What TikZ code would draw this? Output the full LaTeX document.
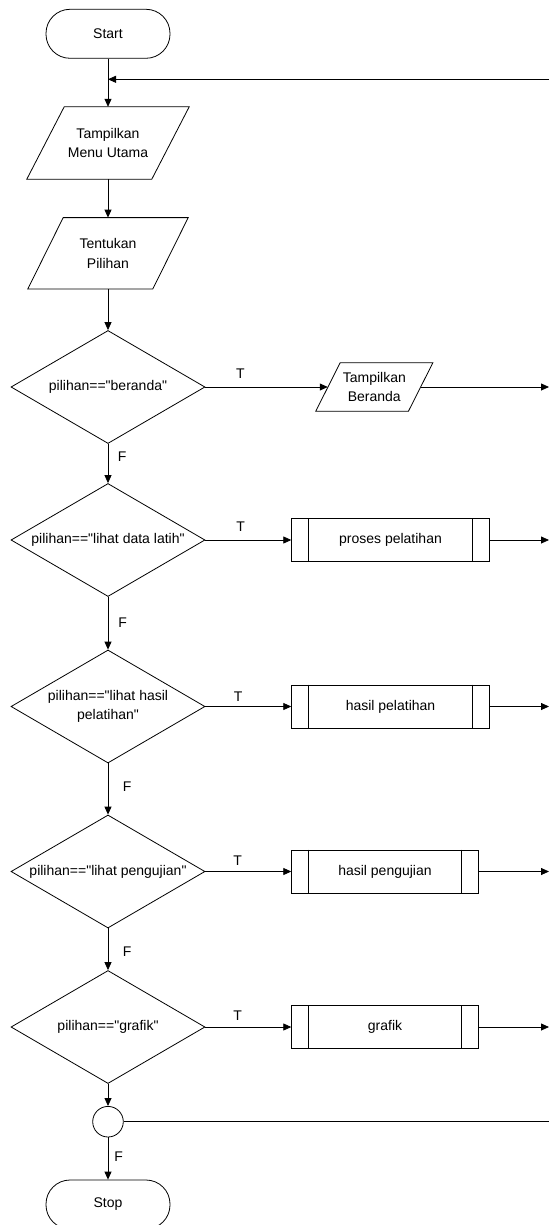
\documentclass[tikz,border=0pt]{standalone}
\usepackage{fontspec}
\setmainfont{Liberation Sans}[Ligatures=TeXOff]
\usetikzlibrary{shapes.geometric,arrows.meta,calc}
\begin{document}
\begin{tikzpicture}[x=1pt,y=-1pt,
  every node/.style={font=\fontsize{14}{19.5}\selectfont, text=black},
  line/.style={draw=black, line width=0.8pt},
  arr/.style={line, -{Triangle[length=8pt,width=7pt]}},
  term/.style={draw=black, line width=0.8pt, rounded corners=24pt, minimum width=124pt, minimum height=49pt, inner sep=0pt},
  decis/.style={draw=black, diamond, line width=0.8pt, minimum width=194pt, minimum height=113pt, inner sep=0pt},
  parabox/.style={inner sep=0pt, align=center},
  procbox/.style={draw=black, line width=0.8pt, minimum height=43pt, inner sep=0pt},
  conn/.style={draw=black, circle, line width=0.8pt, minimum size=30.6pt, inner sep=0pt},
  tl/.style={anchor=south, inner sep=0pt},
  fl/.style={anchor=west, inner sep=0pt}
]
\clip (0,0) rectangle (549,1225);
\fill[white] (0,0) rectangle (549,1225);

% terminals
\node[term] (start) at (108,33.8) {Start};
\node[term] (stop) at (108,1204.5) {Stop};

% input/output
\node[parabox, minimum width=162pt, minimum height=72pt] (p1) at (108,143) {Tampilkan\\Menu Utama};
\draw[line] (p1.south west) -- ++(125,0) -- (p1.north east) -- ++(-125,0) -- cycle;
\node[parabox, minimum width=160pt, minimum height=71pt] (p2) at (108,253.3) {Tentukan\\Pilihan};
\draw[line] (p2.south west) -- ++(125,0) -- (p2.north east) -- ++(-125,0) -- cycle;
\node[parabox, minimum width=116.7pt, minimum height=48pt] (pb) at (374.3,387) {Tampilkan\\Beranda};
\draw[line] (pb.south west) -- ++(92.7,0) -- (pb.north east) -- ++(-92.7,0) -- cycle;

% decisions
\node[decis, label={center:pilihan=="beranda"}] (d1) at (108,387) {};
\node[decis, label={center:pilihan=="lihat data latih"}] (d2) at (108,540) {};
\node[decis, label={[align=center]center:{pilihan=="lihat hasil\\pelatihan"}}] (d3) at (108,706.5) {};
\node[decis, label={center:pilihan=="lihat pengujian"}] (d4) at (108,871.5) {};
\node[decis, label={center:pilihan=="grafik"}] (d5) at (108,1027) {};

% predefined processes
\node[procbox, minimum width=197.6pt] (b1) at (390.5,540) {proses pelatihan};
\node[procbox, minimum width=197.6pt] (b2) at (390.5,706.5) {hasil pelatihan};
\node[procbox, minimum width=186.6pt] (b3) at (385,871.5) {hasil pengujian};
\node[procbox, minimum width=186.6pt] (b4) at (385,1027) {grafik};
\foreach \b in {b1,b2,b3,b4}{
  \draw[line] ([xshift=17pt]\b.north west) -- ([xshift=17pt]\b.south west);
  \draw[line] ([xshift=-17pt]\b.north east) -- ([xshift=-17pt]\b.south east);
}

% connector circle
\node[conn] (c) at (108,1121.7) {};

% right-edge coordinates
\coordinate (loopR) at (549,79.3);
\coordinate (r1) at (549,387);
\coordinate (r2) at (549,540);
\coordinate (r3) at (549,706.5);
\coordinate (r4) at (549,871.5);
\coordinate (r5) at (549,1027);
\coordinate (cR) at (549,1121.7);

% main flow
\draw[arr] (start.south) -- (p1.north);
\draw[arr] (loopR) -- (loopR -| start.south);
\draw[arr] (p1.south) -- (p2.north);
\draw[arr] (p2.south) -- (d1.north);
\draw[arr] (d1.south) -- node[fl, pos=0.33, xshift=9.5pt]{F} (d2.north);
\draw[arr] (d2.south) -- node[fl, pos=0.48, xshift=10pt]{F} (d3.north);
\draw[arr] (d3.south) -- node[fl, pos=0.46, xshift=14.5pt]{F} (d4.north);
\draw[arr] (d4.south) -- node[fl, pos=0.56, xshift=14.5pt]{F} (d5.north);
\draw[arr] (d5.south) -- (c.north);
\draw[arr] (c.south) -- node[fl, pos=0.46, xshift=6pt]{F} (stop.north);

% true branches
\draw[arr] (d1.east) -- node[tl, pos=0.287, yshift=8pt]{T} ($(pb.west)+(12,0)$);
\draw[arr] ($(pb.east)+(-12,0)$) -- (r1);
\draw[arr] (d2.east) -- node[tl, pos=0.41, yshift=8pt]{T} (b1.west);
\draw[arr] (b1.east) -- (r2);
\draw[arr] (d3.east) -- node[tl, pos=0.38, yshift=5pt]{T} (b2.west);
\draw[arr] (b2.east) -- (r3);
\draw[arr] (d4.east) -- node[tl, pos=0.375, yshift=6pt]{T} (b3.west);
\draw[arr] (b3.east) -- (r4);
\draw[arr] (d5.east) -- node[tl, pos=0.375, yshift=6pt]{T} (b4.west);
\draw[arr] (b4.east) -- (r5);
\draw[line] (c.east) -- (cR);
\end{tikzpicture}
\end{document}
